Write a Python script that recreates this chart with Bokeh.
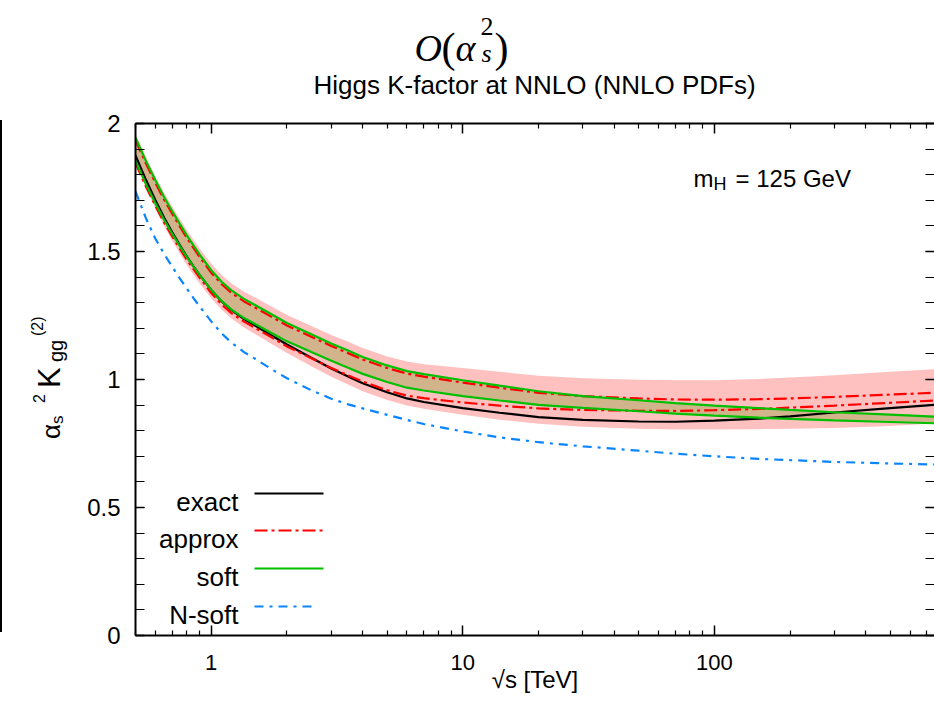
from bokeh.plotting import figure
from bokeh.layouts import row, column
from bokeh.models import (Range1d, FixedTicker, CustomJSTickFormatter, LogAxis,
                          LinearAxis, Label, Arrow, Div)
from bokeh.embed import file_html
from bokeh.resources import INLINE

# ---------------- data ----------------
sqrt_s = [0.5, 0.55, 0.6, 0.65, 0.7, 0.75, 0.8, 0.85, 0.9, 1.0, 1.1, 1.2, 1.35, 1.5,
          1.75, 2, 2.5, 3, 3.5, 4, 5, 6, 7, 10, 14, 20, 30, 50, 70, 100, 150, 200,
          300, 500, 750]

exact = [1.875, 1.78, 1.70, 1.632, 1.575, 1.525, 1.48, 1.442, 1.408, 1.35, 1.305,
         1.272, 1.236, 1.21, 1.17, 1.137, 1.085, 1.043, 1.012, 0.985, 0.95, 0.926,
         0.912, 0.888, 0.87, 0.853, 0.842, 0.836, 0.835, 0.839, 0.847, 0.856, 0.871,
         0.888, 0.901]

soft_hi = [1.945, 1.854, 1.778, 1.712, 1.657, 1.608, 1.563, 1.524, 1.488, 1.427, 1.382,
           1.349, 1.315, 1.29, 1.253, 1.221, 1.177, 1.141, 1.113, 1.088, 1.055, 1.033,
           1.021, 0.997, 0.976, 0.954, 0.935, 0.919, 0.908, 0.898, 0.888, 0.881,
           0.872, 0.863, 0.855]
soft_lo = [1.855, 1.764, 1.688, 1.623, 1.569, 1.521, 1.478, 1.441, 1.408, 1.35, 1.306,
           1.274, 1.24, 1.216, 1.18, 1.149, 1.107, 1.073, 1.046, 1.022, 0.99, 0.968,
           0.957, 0.935, 0.918, 0.901, 0.889, 0.876, 0.867, 0.859, 0.851, 0.846, 0.84,
           0.834, 0.829]

approx_hi = [1.935, 1.844, 1.768, 1.702, 1.647, 1.598, 1.553, 1.514, 1.478, 1.417,
             1.372, 1.339, 1.305, 1.28, 1.243, 1.211, 1.167, 1.131, 1.103, 1.078,
             1.045, 1.023, 1.011, 0.988, 0.968, 0.948, 0.935, 0.926, 0.922, 0.921,
             0.923, 0.926, 0.932, 0.941, 0.948]
approx_lo = [1.845, 1.754, 1.678, 1.613, 1.559, 1.511, 1.468, 1.431, 1.397, 1.338,
             1.293, 1.26, 1.226, 1.201, 1.163, 1.129, 1.083, 1.045, 1.016, 0.992,
             0.958, 0.937, 0.927, 0.91, 0.898, 0.887, 0.881, 0.878, 0.877, 0.88,
             0.885, 0.89, 0.898, 0.909, 0.918]

band_hi = [1.96, 1.87, 1.795, 1.73, 1.676, 1.628, 1.584, 1.546, 1.511, 1.452, 1.408,
           1.376, 1.343, 1.319, 1.283, 1.252, 1.209, 1.174, 1.147, 1.123, 1.09, 1.07,
           1.06, 1.045, 1.03, 1.015, 1.005, 0.999, 0.997, 0.997, 1.002, 1.008, 1.017,
           1.03, 1.04]
band_lo = [1.845, 1.748, 1.667, 1.599, 1.542, 1.492, 1.447, 1.409, 1.375, 1.317, 1.272,
           1.239, 1.203, 1.177, 1.137, 1.104, 1.052, 1.011, 0.98, 0.954, 0.92, 0.898,
           0.886, 0.862, 0.843, 0.827, 0.815, 0.808, 0.805, 0.805, 0.806, 0.808,
           0.811, 0.818, 0.828]

nsoft = [1.735, 1.63, 1.55, 1.49, 1.44, 1.395, 1.355, 1.318, 1.285, 1.227, 1.18,
         1.145, 1.107, 1.08, 1.038, 1.005, 0.958, 0.925, 0.903, 0.887, 0.862, 0.842,
         0.826, 0.797, 0.774, 0.755, 0.739, 0.722, 0.71, 0.70, 0.69, 0.685, 0.678,
         0.672, 0.668]

x_major = [1, 10, 100]
y_major = [0, 0.5, 1, 1.5, 2]
legend_names = ["exact", "approx", "soft", "N-soft"]

# ---------------- styles ----------------
BLACK = "#000000"
RED = "#ff0000"
GREEN = "#00c000"
BLUE = "#0a84ff"
PINK = "#ffc0c0"
TAN = "#d2b48c"
SANS = "Liberation Sans"
SERIF = "Liberation Serif"

W, H = 934, 707
YL_W = 75          # width of the left strip holding the rotated y label
HEAD_H = 110       # height of the header strip holding the titles
FL, FT, FB = 135, 123, 635   # frame edges in page pixels

# header strip: x data = page pixels, y data = HEAD_H - page pixels
head = figure(width=W - YL_W, height=HEAD_H, x_range=Range1d(YL_W, W),
              y_range=Range1d(0, HEAD_H), title=None,
              x_axis_location=None, y_axis_location=None,
              output_backend="svg", toolbar_location=None,
              min_border=0, min_border_left=0, min_border_right=0,
              min_border_top=0, min_border_bottom=0)
head.frame_align = False
head.outline_line_color = None
head.xgrid.visible = False
head.ygrid.visible = False

p = figure(width=W - YL_W, height=H - HEAD_H, x_axis_type="log", title=None,
           x_range=Range1d(0.5, 750), y_range=Range1d(0, 2),
           output_backend="svg", toolbar_location=None,
           min_border_left=FL - YL_W, min_border_right=0,
           min_border_top=FT - HEAD_H, min_border_bottom=H - FB)
p.frame_align = False
p.outline_line_color = None
p.xgrid.visible = False
p.ygrid.visible = False
p.background_fill_color = "white"
p.border_fill_color = "white"

fmt = CustomJSTickFormatter(code="return String(tick)")
blank = CustomJSTickFormatter(code="return ''")
x_minor = [m * 10.0 ** e for e in (-1, 0, 1, 2) for m in range(2, 10)]
y_minor = [i / 10 for i in range(21)]
xt = FixedTicker(ticks=x_major, minor_ticks=x_minor)
yt = FixedTicker(ticks=y_major, minor_ticks=y_minor)


def style_axis(ax, line=True, tick=10, mtick=5):
    ax.axis_line_width = 2
    ax.axis_line_color = BLACK if line else None
    ax.major_tick_in = tick
    ax.major_tick_out = 0
    ax.minor_tick_in = mtick
    ax.minor_tick_out = 0
    ax.major_tick_line_width = 1.5
    ax.minor_tick_line_width = 1.2
    ax.major_tick_line_color = BLACK
    ax.minor_tick_line_color = BLACK
    ax.major_label_text_font = SANS
    ax.major_label_text_color = BLACK


xa = p.xaxis[0]
xa.ticker = xt
xa.formatter = fmt
style_axis(xa, tick=10, mtick=5)
xa.major_label_text_font_size = "22px"
xa.major_label_standoff = 19
xa.axis_label = "√s [TeV]"
xa.axis_label_text_font = SANS
xa.axis_label_text_font_size = "24px"
xa.axis_label_text_font_style = "normal"
xa.axis_label_text_color = BLACK
xa.axis_label_standoff = -7

ya = p.yaxis[0]
ya.ticker = yt
ya.formatter = fmt
style_axis(ya, tick=9, mtick=9)
ya.major_label_text_font_size = "24px"
ya.major_label_standoff = 15

top = LogAxis(ticker=xt, formatter=blank)
style_axis(top, tick=10, mtick=5)
top.major_label_text_font_size = "1px"
top.major_label_standoff = 0
p.add_layout(top, "above")

right = LinearAxis(ticker=yt, formatter=blank)
style_axis(right, line=False, tick=9, mtick=9)
right.major_label_text_font_size = "1px"
right.major_label_standoff = 0
p.add_layout(right, "right")

# ---------------- data glyphs ----------------
p.varea(x=sqrt_s, y1=band_lo, y2=band_hi, fill_color=PINK)
p.varea(x=sqrt_s, y1=soft_lo, y2=soft_hi, fill_color=TAN)
p.line(sqrt_s, exact, line_color=BLACK, line_width=2.2)
p.line(sqrt_s, approx_hi, line_color=RED, line_width=2.2, line_dash="13 4 3 4")
p.line(sqrt_s, approx_lo, line_color=RED, line_width=2.2, line_dash="13 4 3 4")
p.line(sqrt_s, soft_hi, line_color=GREEN, line_width=2.2)
p.line(sqrt_s, soft_lo, line_color=GREEN, line_width=2.2)
p.line(sqrt_s, nsoft, line_color=BLUE, line_width=2.2, line_dash="9 6 3 6")


# ---------------- texts ----------------
def head_lab(text, X, Y, size, font=SANS, style="normal", align="left"):
    head.add_layout(Label(x=X, y=HEAD_H - Y, text=text, text_font=font,
                          text_font_size=f"{size}px", text_font_style=style,
                          text_align=align, text_baseline="alphabetic",
                          text_color=BLACK))


def frame_lab(text, X, Y, size, font=SANS, style="normal", align="left"):
    """Label inside the main frame, given in page pixels."""
    p.add_layout(Label(x=X - FL, y=FB - Y, x_units="screen", y_units="screen",
                       text=text, text_font=font, text_font_size=f"{size}px",
                       text_font_style=style, text_align=align,
                       text_baseline="alphabetic", text_color=BLACK))


# title O(alpha_s^2)
head_lab("O", 414, 47, 38, SERIF, "italic")
head_lab("(", 441, 47, 42, SERIF)
head_lab("α", 455, 47, 38, SERIF, "italic")
head_lab("2", 480, 26, 26, SERIF)
head_lab("s", 481, 53, 26, SERIF, "italic")
head_lab(")", 494, 47, 42, SERIF)
# subtitle
head_lab("Higgs K-factor at NNLO (NNLO PDFs)", 534, 84, 26, align="center")


# y axis label: rotated HTML pieces (baseline x, start y, font size)
def vpiece(text, xb, ys, size):
    left = xb - 0.8465 * size
    return (f'<div style="position:absolute;left:{left:.1f}px;top:{ys}px;'
            f'transform:rotate(-90deg);transform-origin:0 0;white-space:nowrap;'
            f'font-family:\'{SANS}\';font-size:{size}px;line-height:1;'
            f'color:#000">{text}</div>')


ylab_html = ('<div style="position:relative;width:75px;height:707px;overflow:visible">'
             + vpiece("α", 60, 439, 26)
             + vpiece("s", 63, 424, 17)
             + vpiece("2", 45, 403, 16)
             + vpiece("K", 60, 388, 31)
             + vpiece("gg", 63, 362, 20)
             + vpiece("(2)", 43, 336, 16)
             + '<div style="position:absolute;left:0px;top:120px;width:0px;'
               'height:512px;border-left:2px solid #000"></div>'
             + '</div>')
ylab = Div(text=ylab_html, width=YL_W, height=H, margin=(0, 0, 0, 0))

# m_H label
frame_lab("m", 693, 178, 24)
frame_lab("H", 713, 183, 18)
frame_lab("= 125 GeV", 735, 178, 24)

# legend
leg_y = [493, 530, 568, 606]
leg_col = [BLACK, RED, GREEN, BLUE]
leg_dash = ["solid", "13 4 3 4", "solid", "9 6 3 6"]
leg_end = [323, 323, 323, 317]
for name, yy, c, d, xe in zip(legend_names, leg_y, leg_col, leg_dash, leg_end):
    frame_lab(name, 238, yy + 8, 26, align="right")
    p.add_layout(Arrow(x_start=254 - FL, y_start=FB - yy, x_end=xe - FL, y_end=FB - yy,
                       start_units="screen", end_units="screen", start=None, end=None,
                       line_color=c, line_width=2.2, line_dash=d))

layout = row(ylab, column(head, p, spacing=0), spacing=0)
open("out.html", "w").write(file_html(layout, INLINE))
